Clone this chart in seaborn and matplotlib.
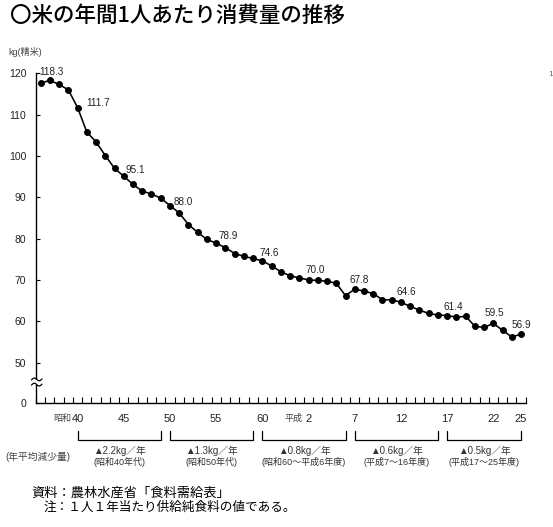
import numpy as np
import pandas as pd
import matplotlib
matplotlib.use("Agg")
import matplotlib.pyplot as plt
import matplotlib.transforms as mtransforms
from matplotlib.lines import Line2D
from matplotlib.patches import Rectangle
import seaborn as sns

# ---------------- data ----------------
years = list(range(1961, 2014))
consumption = [117.6, 118.3, 117.3, 116.0, 111.7, 105.8, 103.4, 100.1, 97.0, 95.1,
               93.1, 91.5, 90.8, 89.8, 88.0, 86.2, 83.4, 81.5, 79.8, 78.9,
               77.8, 76.4, 75.7, 75.2, 74.6, 73.4, 72.0, 71.0, 70.5, 70.0,
               69.9, 69.7, 69.2, 66.2, 67.8, 67.3, 66.7, 65.2, 65.2, 64.6,
               63.6, 62.7, 61.9, 61.5, 61.4, 61.0, 61.2, 58.8, 58.5, 59.5,
               57.8, 56.2, 56.9]

label_years = [1962, 1965, 1970, 1975, 1980, 1985, 1990, 1995, 2000, 2005, 2010, 2013]

tick_years = [1965, 1970, 1975, 1980, 1985, 1990, 1995, 2000, 2005, 2010, 2013]
tick_labels = ["40", "45", "50", "55", "60", "2", "7", "12", "17", "22", "25"]
era_years = [1965, 1990]
era_names = ["昭和", "平成"]

y_ticks = [0, 50, 60, 70, 80, 90, 100, 110, 120]

bracket_spans = [(1965, 1974), (1975, 1984), (1985, 1994), (1995, 2004), (2005, 2013)]
bracket_rates = ["▲2.2kg／年", "▲1.3kg／年", "▲0.8kg／年", "▲0.6kg／年", "▲0.5kg／年"]
bracket_periods = ["(昭和40年代)", "(昭和50年代)", "(昭和60～平成6年度)",
                   "(平成7～16年度)", "(平成17～25年度)"]

title = "〇米の年間1人あたり消費量の推移"
unit_label = "kg(精米)"
row_label = "(年平均減少量)"
source_text = "資料：農林水産省「食料需給表」"
note_text = "注：１人１年当たり供給純食料の値である。"

# label offsets in pixels (style)
label_offsets = [(2, 8), (20, 5), (12, 6), (13, 4), (12, 7), (7, 8),
                 (7, 10), (4, 9), (5, 10), (6, 9), (1, 10), (0, 9)]

# ---------------- style ----------------
sns.set_theme(style="white")
plt.rcParams["font.family"] = ["Liberation Sans", "Noto Sans CJK JP", "DejaVu Sans"]
plt.rcParams["axes.unicode_minus"] = False

W, H = 553, 527
fig = plt.figure(figsize=(W / 100, H / 100), dpi=100)
fig.patch.set_facecolor("white")

def fx(px):
    return px / W

def fy(py):
    return 1 - py / H

ax_left, ax_right, ax_top, ax_bottom = 36, 525.7, 73.3, 403
ax = fig.add_axes([fx(ax_left), fy(ax_bottom), fx(ax_right - ax_left), (ax_bottom - ax_top) / H])
ax.set_facecolor("white")

# broken y-scale: 0..50 compressed
LOW = 40.23
def fwd(v):
    v = np.asarray(v, dtype=float)
    return np.where(v < 50, LOW + v * (50 - LOW) / 50.0, v)

def inv(u):
    u = np.asarray(u, dtype=float)
    return np.where(u < 50, (u - LOW) * 50.0 / (50 - LOW), u)

ax.set_yscale("function", functions=(fwd, inv))

df = pd.DataFrame({"year": years, "kg": consumption})
sns.lineplot(data=df, x="year", y="kg", ax=ax, color="black", linewidth=1.15,
             marker="o", markersize=4.2, markeredgecolor="black",
             markerfacecolor="black", legend=False)

# data labels
val = dict(zip(years, consumption))
for yr, (dx, dy) in zip(label_years, label_offsets):
    ax.annotate(f"{val[yr]:.1f}", xy=(yr, val[yr]), xytext=(dx, dy),
                textcoords="offset pixels", ha="center", va="center",
                fontsize=7.2, color="#222222", annotation_clip=False)

ax.set_xlim(1960.5, 2013.5)
ax.set_ylim(0, 120)
ax.set_xlabel("")
ax.set_ylabel("")

for s in ["top", "right"]:
    ax.spines[s].set_visible(False)
for s in ["left", "bottom"]:
    ax.spines[s].set_color("black")
    ax.spines[s].set_linewidth(1.0)

ax.set_yticks(y_ticks)
ax.set_yticklabels([str(t) for t in y_ticks])
ax.yaxis.set_minor_locator(matplotlib.ticker.NullLocator())
ax.tick_params(axis="y", which="major", direction="in", length=3, width=0.8,
               color="black", labelsize=7.5, pad=7, labelcolor="#222222", left=True)

ax.set_xticks(tick_years)
ax.set_xticklabels(tick_labels)
ax.set_xticks(np.arange(1960.5, 2014.0, 1.0), minor=True)
ax.tick_params(axis="x", which="major", length=0, labelsize=8, pad=8,
               labelcolor="#222222")
ax.tick_params(axis="x", which="minor", direction="in", length=4, width=0.8,
               color="black", bottom=True)
ax.grid(False)

# era prefixes
trans_xf = mtransforms.blended_transform_factory(ax.transData, fig.transFigure)
for yr, name in zip(era_years, era_names):
    ax.annotate(name, xy=(yr, fy(418.5)), xycoords=trans_xf, xytext=(-6, 0),
                textcoords="offset pixels", ha="right", va="center",
                fontsize=6.5, color="#444444", annotation_clip=False)

# brackets
for (a, b), rate, period in zip(bracket_spans, bracket_rates, bracket_periods):
    ax.add_line(Line2D([a, a, b, b], [fy(430.5), fy(439.5), fy(439.5), fy(430.5)],
                       transform=trans_xf, color="black", linewidth=0.9, clip_on=False))
    mid = (a + b) / 2
    ax.text(mid, fy(451), rate, transform=trans_xf, ha="center", va="center",
            fontsize=7, color="#333333")
    ax.text(mid, fy(462), period, transform=trans_xf, ha="center", va="center",
            fontsize=6.5, color="#333333")

# axis break mark
fig.canvas.draw()
x0, yb = ax.transData.transform((1960.5, 26.0))
cover = Rectangle((x0 - 2, yb - 2.5), 4, 5, transform=mtransforms.IdentityTransform(),
                  facecolor="white", edgecolor="none", zorder=5)
fig.add_artist(cover)
t = np.linspace(0, 1, 40)
for off in (2.6, -2.6):
    xs = x0 - 4.5 + 10.5 * t
    ys = yb + off + 1.6 * np.sin(2 * np.pi * t) + 1.0 * (t - 0.5)
    fig.add_artist(Line2D(xs, ys, transform=mtransforms.IdentityTransform(),
                          color="black", linewidth=0.9, zorder=6))

# texts
fig.text(fx(10), fy(16), title, fontsize=15.5, ha="left", va="center", color="black",
         family=["Noto Sans CJK JP", "DejaVu Sans"], fontweight="medium")
fig.text(fx(8), fy(52), unit_label, fontsize=6.5, ha="left", va="center", color="#444444")
fig.text(fx(548), fy(75), "1", fontsize=6, ha="left", va="center", color="#666666")
fig.text(fx(38), fy(457), row_label, fontsize=7, ha="center", va="center", color="#444444")
fig.text(fx(31), fy(493.5), source_text, fontsize=9.5, ha="left", va="center", color="black",
         family=["Noto Sans CJK JP", "DejaVu Sans"])
fig.text(fx(44), fy(507.5), note_text, fontsize=9.1, ha="left", va="center", color="black",
         family=["Noto Sans CJK JP", "DejaVu Sans"])

fig.savefig("out.png", dpi=100, facecolor="white")
